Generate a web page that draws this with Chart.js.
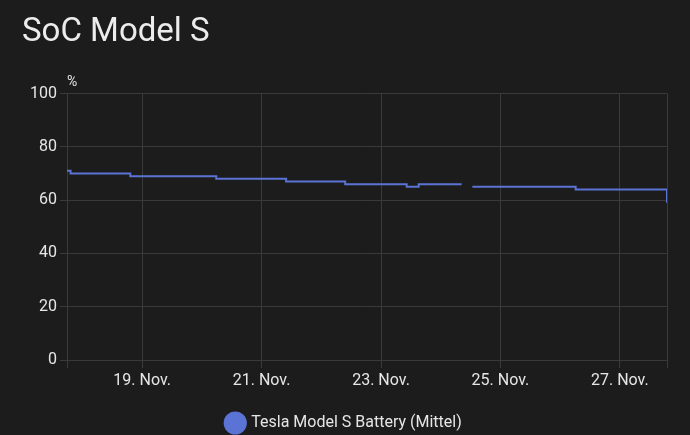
<script src="https://cdn.jsdelivr.net/npm/chart.js"></script>
<style>
  html, body { margin: 0; padding: 0; background: #1c1c1c; }
  #wrap { width: 690px; height: 435px; }
</style>
<div id="wrap">
  <canvas id="myChart" width="690" height="435"></canvas>
</div>
<script>
    // x values are days of November (fractional), SoC in %
    const days = [17.74, 17.80, 18.80, 20.24, 21.41, 22.40, 23.43, 23.63, 24.35, 24.44, 24.53, 26.26, 27.79];
    const soc  = [71,    70,    69,    68,    67,    66,    65,    66,    66,    null,  65,    64,    59];

    const tickDays = [19, 21, 23, 25, 27];
    const monthLabel = 'Nov.';
    const xMin = 17.74;
    const xMax = 27.79;

    const lineColor = '#5b73d4';
    const gridColor = '#3a3a3a';
    const textColor = '#e6e6e6';

    Chart.defaults.font.family = 'Roboto';
    Chart.defaults.color = textColor;

    const unitLabel = {
        id: 'unitLabel',
        afterDraw(chart) {
            const {ctx, chartArea: {left, top}} = chart
            ctx.save()
            ctx.fillStyle = textColor
            ctx.font = '14px Roboto'
            ctx.textAlign = 'left'
            ctx.textBaseline = 'middle'
            ctx.fillText('%', left, top - 11)
            ctx.restore()
        }
    };

    const data = {
        datasets: [{
            label: 'Tesla Model S Battery (Mittel)',
            data: days.map((d, i) => ({x: d, y: soc[i]})),
            borderColor: lineColor,
            backgroundColor: lineColor,
            borderWidth: 2,
            stepped: true,
            pointRadius: 0,
            spanGaps: false,
        }]
    };

    const config = {
        type: 'line',
        data,
        options: {
            responsive: false,
            animation: false,
            layout: {
                padding: {left: 22, right: 23, top: 0, bottom: -6}
            },
            plugins: {
                title: {
                    display: true,
                    text: 'SoC Model S',
                    align: 'start',
                    color: '#ececec',
                    font: {size: 33, weight: 'normal'},
                    padding: {top: 13, bottom: 41}
                },
                legend: {
                    position: 'bottom',
                    labels: {
                        usePointStyle: true,
                        pointStyle: 'circle',
                        boxHeight: 15,
                        padding: 4,
                        color: textColor,
                        font: {size: 16}
                    }
                },
                tooltip: {enabled: false}
            },
            scales: {
                x: {
                    type: 'linear',
                    min: xMin,
                    max: xMax,
                    afterBuildTicks(scale) {
                        scale.ticks = [xMin].concat(tickDays, [xMax]).map(v => ({value: v}))
                    },
                    afterFit(scale) { scale.height = 51 },
                    ticks: {
                        autoSkip: false,
                        maxRotation: 0,
                        font: {size: 16},
                        color: textColor,
                        callback: (v) => tickDays.includes(v) ? v + '. ' + monthLabel : ''
                    },
                    grid: {color: gridColor, tickLength: 8},
                    border: {color: gridColor}
                },
                y: {
                    min: 0,
                    max: 100,
                    afterFit(scale) { scale.width = 45 },
                    ticks: {
                        stepSize: 20,
                        font: {size: 16},
                        color: textColor
                    },
                    grid: {color: gridColor, tickLength: 7},
                    border: {color: gridColor}
                }
            }
        },
        plugins: [unitLabel]
    };

    const myChart = new Chart(document.getElementById('myChart'), config);
</script>
